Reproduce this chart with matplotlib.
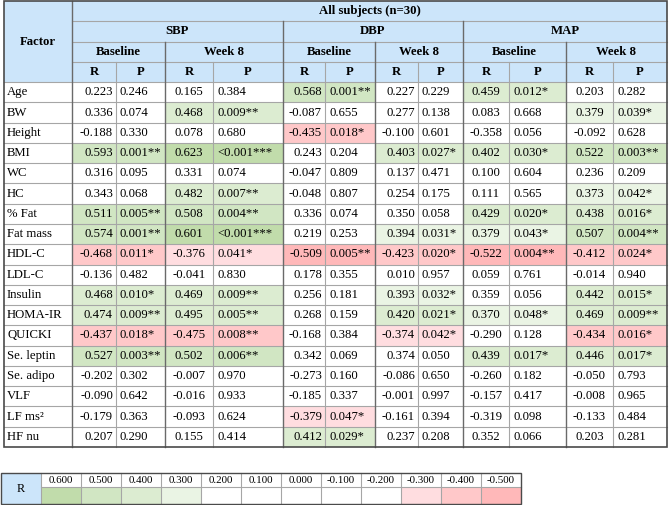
import matplotlib.pyplot as plt
from matplotlib.patches import Rectangle

plt.rcParams['font.family'] = ['Liberation Serif', 'DejaVu Serif']

factors = ['Age', 'BW', 'Height', 'BMI', 'WC', 'HC', '% Fat', 'Fat mass', 'HDL-C', 'LDL-C',
           'Insulin', 'HOMA-IR', 'QUICKI', 'Se. leptin', 'Se. adipo', 'VLF', 'LF ms²', 'HF nu']

# SBP
sbp_base_r = [0.223, 0.336, -0.188, 0.593, 0.316, 0.343, 0.511, 0.574, -0.468, -0.136,
              0.468, 0.474, -0.437, 0.527, -0.202, -0.090, -0.179, 0.207]
sbp_base_p = ['0.246', '0.074', '0.330', '0.001**', '0.095', '0.068', '0.005**', '0.001**', '0.011*', '0.482',
              '0.010*', '0.009**', '0.018*', '0.003**', '0.302', '0.642', '0.363', '0.290']
sbp_wk8_r = [0.165, 0.468, 0.078, 0.623, 0.331, 0.482, 0.508, 0.601, -0.376, -0.041,
             0.469, 0.495, -0.475, 0.502, -0.007, -0.016, -0.093, 0.155]
sbp_wk8_p = ['0.384', '0.009**', '0.680', '<0.001***', '0.074', '0.007**', '0.004**', '<0.001***', '0.041*', '0.830',
             '0.009**', '0.005**', '0.008**', '0.006**', '0.970', '0.933', '0.624', '0.414']
# DBP
dbp_base_r = [0.568, -0.087, -0.435, 0.243, -0.047, -0.048, 0.336, 0.219, -0.509, 0.178,
              0.256, 0.268, -0.168, 0.342, -0.273, -0.185, -0.379, 0.412]
dbp_base_p = ['0.001**', '0.655', '0.018*', '0.204', '0.809', '0.807', '0.074', '0.253', '0.005**', '0.355',
              '0.181', '0.159', '0.384', '0.069', '0.160', '0.337', '0.047*', '0.029*']
dbp_wk8_r = [0.227, 0.277, -0.100, 0.403, 0.137, 0.254, 0.350, 0.394, -0.423, 0.010,
             0.393, 0.420, -0.374, 0.374, -0.086, -0.001, -0.161, 0.237]
dbp_wk8_p = ['0.229', '0.138', '0.601', '0.027*', '0.471', '0.175', '0.058', '0.031*', '0.020*', '0.957',
             '0.032*', '0.021*', '0.042*', '0.050', '0.650', '0.997', '0.394', '0.208']
# MAP
map_base_r = [0.459, 0.083, -0.358, 0.402, 0.100, 0.111, 0.429, 0.379, -0.522, 0.059,
              0.359, 0.370, -0.290, 0.439, -0.260, -0.157, -0.319, 0.352]
map_base_p = ['0.012*', '0.668', '0.056', '0.030*', '0.604', '0.565', '0.020*', '0.043*', '0.004**', '0.761',
              '0.056', '0.048*', '0.128', '0.017*', '0.182', '0.417', '0.098', '0.066']
map_wk8_r = [0.203, 0.379, -0.092, 0.522, 0.236, 0.373, 0.438, 0.507, -0.412, -0.014,
             0.442, 0.469, -0.434, 0.446, -0.050, -0.008, -0.133, 0.203]
map_wk8_p = ['0.282', '0.039*', '0.628', '0.003**', '0.209', '0.042*', '0.016*', '0.004**', '0.024*', '0.940',
             '0.015*', '0.009**', '0.016*', '0.017*', '0.793', '0.965', '0.484', '0.281']

measures = ['SBP', 'DBP', 'MAP']
times = ['Baseline', 'Week 8']
legend_values = [0.6, 0.5, 0.4, 0.3, 0.2, 0.1, 0.0, -0.1, -0.2, -0.3, -0.4, -0.5]

pairs = [(sbp_base_r, sbp_base_p), (sbp_wk8_r, sbp_wk8_p),
         (dbp_base_r, dbp_base_p), (dbp_wk8_r, dbp_wk8_p),
         (map_base_r, map_base_p), (map_wk8_r, map_wk8_p)]

# colours
header_blue = '#cce5fa'
shades = {6: '#c1dcab', 5: '#d1e6c3', 4: '#dcecd1', 3: '#eaf4e4',
          -3: '#ffdde0', -4: '#ffc8c9', -5: '#ffb8b9'}


def shade(r):
    k = int(abs(r) * 10 + 1e-9)
    if k < 3:
        return 'white'
    k = min(k, 6) if r > 0 else -min(k, 5)
    return shades[k]


# layout (pixels)
col_edges = [4, 72, 116, 165, 213, 283, 325, 375, 418, 463, 509, 566, 613, 667]
top, bottom = 1, 447
n_rows = 4 + len(factors)
row_h = (bottom - top) / n_rows
r_align = ['right', 'center', 'right', 'right', 'center', 'center']
fs = 9.2
grid_c = '#a6a6a6'
dark_c = '#6a6a6a'

fig = plt.figure(figsize=(6.69, 5.05), dpi=100)
ax = fig.add_axes([0, 0, 1, 1])
ax.set_xlim(0, 669)
ax.set_ylim(505, 0)
ax.axis('off')


def cell(x0, x1, y0, y1, color):
    ax.add_patch(Rectangle((x0, y0), x1 - x0, y1 - y0, facecolor=color, edgecolor='none', zorder=1))


def ry(i):
    return top + i * row_h


# header background
cell(col_edges[0], col_edges[-1], ry(0), ry(4), header_blue)
ax.text((col_edges[0] + col_edges[1]) / 2, ry(2), 'Factor', ha='center', va='center',
        fontsize=fs, fontweight='bold')
ax.text((col_edges[1] + col_edges[-1]) / 2, ry(0.5), 'All subjects (n=30)', ha='center', va='center',
        fontsize=fs, fontweight='bold')
for m, name in enumerate(measures):
    x0, x1 = col_edges[1 + 4 * m], col_edges[5 + 4 * m]
    ax.text((x0 + x1) / 2, ry(1.5), name, ha='center', va='center', fontsize=fs, fontweight='bold')
    for t, tname in enumerate(times):
        a, b = col_edges[1 + 4 * m + 2 * t], col_edges[3 + 4 * m + 2 * t]
        ax.text((a + b) / 2, ry(2.5), tname, ha='center', va='center', fontsize=fs, fontweight='bold')
for c in range(12):
    a, b = col_edges[1 + c], col_edges[2 + c]
    ax.text((a + b) / 2, ry(3.5), 'RP'[c % 2], ha='center', va='center', fontsize=fs, fontweight='bold')

# body
for i, f in enumerate(factors):
    y0, y1 = ry(4 + i), ry(5 + i)
    yc = (y0 + y1) / 2
    ax.text(col_edges[0] + 3, yc, f, ha='left', va='center', fontsize=fs)
    for g, (rv, pv) in enumerate(pairs):
        xr0, xr1, xp1 = col_edges[1 + 2 * g], col_edges[2 + 2 * g], col_edges[3 + 2 * g]
        r, p = rv[i], pv[i]
        color = shade(r) if '*' in p else 'white'
        if color != 'white':
            cell(xr0, xp1, y0, y1, color)
        al = r_align[g]
        xt = {'right': xr1 - 3, 'center': (xr0 + xr1) / 2}[al]
        ax.text(xt, yc, '%.3f' % r, ha=al, va='center', fontsize=fs)
        ax.text(xr1 + 4, yc, p, ha='left', va='center', fontsize=fs)

# grid lines
for k in range(1, n_rows):
    y = ry(k)
    x0 = col_edges[1] if k < 4 else col_edges[0]
    ax.plot([x0, col_edges[-1]], [y, y], color=grid_c, lw=0.8, zorder=2)
for j, x in enumerate(col_edges[1:-1], start=1):
    if j == 1:
        ax.plot([x, x], [top, bottom], color=dark_c, lw=1.0, zorder=3)
    elif (j - 1) % 4 == 0:
        ax.plot([x, x], [ry(1), bottom], color=dark_c, lw=1.0, zorder=3)
    elif (j - 1) % 2 == 0:
        ax.plot([x, x], [ry(2), bottom], color=dark_c, lw=1.0, zorder=3)
    else:
        ax.plot([x, x], [ry(3), bottom], color=grid_c, lw=0.8, zorder=2)
ax.add_patch(Rectangle((col_edges[0], top), col_edges[-1] - col_edges[0], bottom - top,
                       facecolor='none', edgecolor='#4a4a4a', lw=1.2, zorder=4))

# legend strip
lx0, lw_, ly0, ly1, ly2 = 1, 40, 473, 487, 504
cell(lx0, lx0 + lw_, ly0, ly2, header_blue)
ax.text(lx0 + lw_ / 2, (ly0 + ly2) / 2, 'R', ha='center', va='center', fontsize=8.8)
for k, v in enumerate(legend_values):
    x0 = lx0 + lw_ * (k + 1)
    cell(x0, x0 + lw_, ly1, ly2, shade(v))
    ax.text(x0 + lw_ / 2, (ly0 + ly1) / 2 + 0.5, '%.3f' % v, ha='center', va='center', fontsize=7.9)
    ax.plot([x0, x0], [ly0, ly2], color=grid_c, lw=0.8, zorder=2)
lx1 = lx0 + lw_ * (len(legend_values) + 1)
ax.plot([lx0 + lw_, lx1], [ly1, ly1], color=grid_c, lw=0.8, zorder=2)
ax.add_patch(Rectangle((lx0, ly0), lx1 - lx0, ly2 - ly0, facecolor='none',
                       edgecolor='#4a4a4a', lw=1.0, zorder=4))

fig.savefig('out.png', dpi=100)
